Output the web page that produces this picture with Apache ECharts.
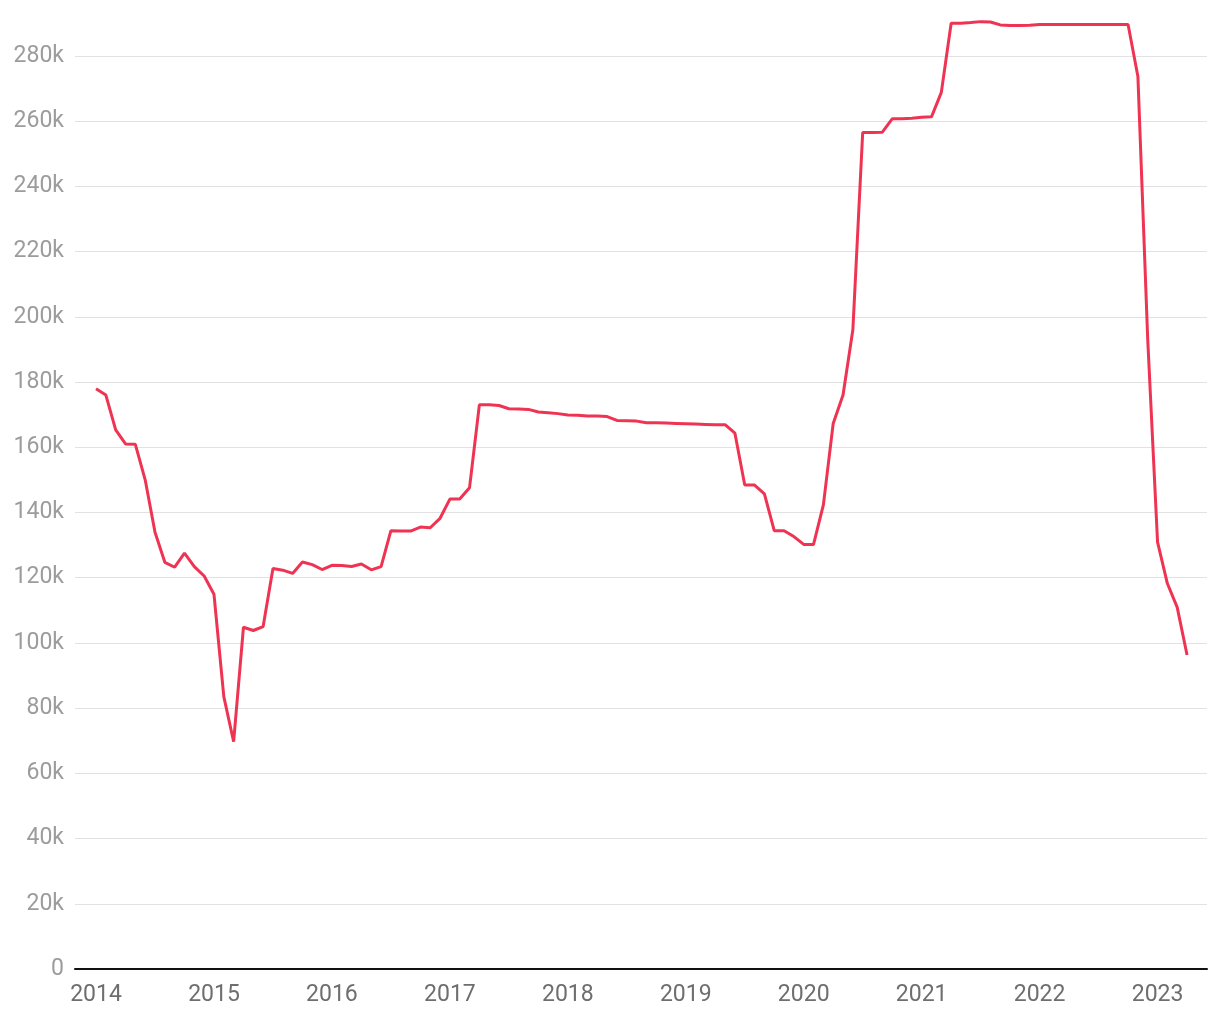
<!DOCTYPE html>
<html>
<head>
<meta charset="utf-8">
<title>chart</title>
<script src="https://cdn.jsdelivr.net/npm/echarts@6/dist/echarts.min.js"></script>
<style>
  html, body { margin: 0; padding: 0; background: #fff; }
  #chart { width: 1220px; height: 1020px; }
</style>
</head>
<body>
<div id="chart"></div>
<script>
// monthly values, Jan 2014 .. Apr 2023
var startYear = 2014;
var values2014 = [177900, 176000, 165300, 161000, 160900, 150000, 133900, 124700, 123200, 127500, 123400, 120500];
var values2015 = [114900, 83500, 69700, 104800, 103800, 105000, 122800, 122300, 121300, 124800, 124000, 122500];
var values2016 = [123800, 123700, 123400, 124200, 122400, 123400, 134400, 134300, 134300, 135500, 135300, 138200];
var values2017 = [144100, 144100, 147600, 173000, 173000, 172800, 171800, 171700, 171600, 170800, 170600, 170300];
var values2018 = [169900, 169800, 169600, 169600, 169400, 168200, 168100, 168000, 167500, 167500, 167400, 167300];
var values2019 = [167200, 167100, 167000, 166900, 166900, 164300, 148400, 148400, 145700, 134400, 134400, 132600];
var values2020 = [130200, 130200, 142300, 167300, 176000, 196000, 256500, 256500, 256600, 260700, 260700, 260900];
var values2021 = [261200, 261300, 268800, 290000, 290000, 290200, 290500, 290400, 289500, 289300, 289300, 289400];
var values2022 = [289600, 289600, 289600, 289600, 289600, 289600, 289600, 289600, 289600, 289600, 273700, 193000];
var values2023 = [130900, 118200, 110900, 96300];

var yearTicks = [0, 12, 24, 36, 48, 60, 72, 84, 96, 108]; // month offsets of each January
var yTicks = [0, 20000, 40000, 60000, 80000, 100000, 120000, 140000, 160000, 180000, 200000, 220000, 240000, 260000, 280000];

var allValues = [].concat(values2014, values2015, values2016, values2017, values2018,
  values2019, values2020, values2021, values2022, values2023);
var seriesData = allValues.map(function (v, i) { return [i, v]; });

var chart = echarts.init(document.getElementById('chart'));

chart.setOption({
  animation: false,
  grid: {
    left: 75,
    right: 13,
    top: 20,
    bottom: 51,
  },
  xAxis: {
    type: 'value',
    min: -2.14,
    max: 113.03,
    axisLine: {
      show: true,
      onZero: false,
      lineStyle: { color: '#111', width: 2 },
    },
    axisTick: { show: false, customValues: yearTicks },
    splitLine: { show: false },
    axisLabel: {
      customValues: yearTicks,
      color: '#6e6e6e',
      fontSize: 23,
      fontFamily: 'Roboto',
      margin: 15,
      formatter: function (v) { return String(startYear + Math.round(v / 12)); },
    },
  },
  yAxis: {
    type: 'value',
    min: 0,
    max: 291000,
    axisLine: { show: false },
    axisTick: { show: false, customValues: yTicks },
    splitLine: {
      show: true,
      lineStyle: { color: '#e2e2e2', width: 1 },
    },
    axisLabel: {
      customValues: yTicks,
      color: '#9c9c9c',
      fontSize: 23,
      fontFamily: 'Roboto',
      margin: 11,
      formatter: function (v) { return v === 0 ? '0' : (v / 1000) + 'k'; },
    },
  },
  series: [
    {
      type: 'line',
      data: seriesData,
      showSymbol: false,
      lineStyle: { color: '#ef3352', width: 3 },
      itemStyle: { color: '#ef3352' },
    },
  ],
});
</script>
</body>
</html>
